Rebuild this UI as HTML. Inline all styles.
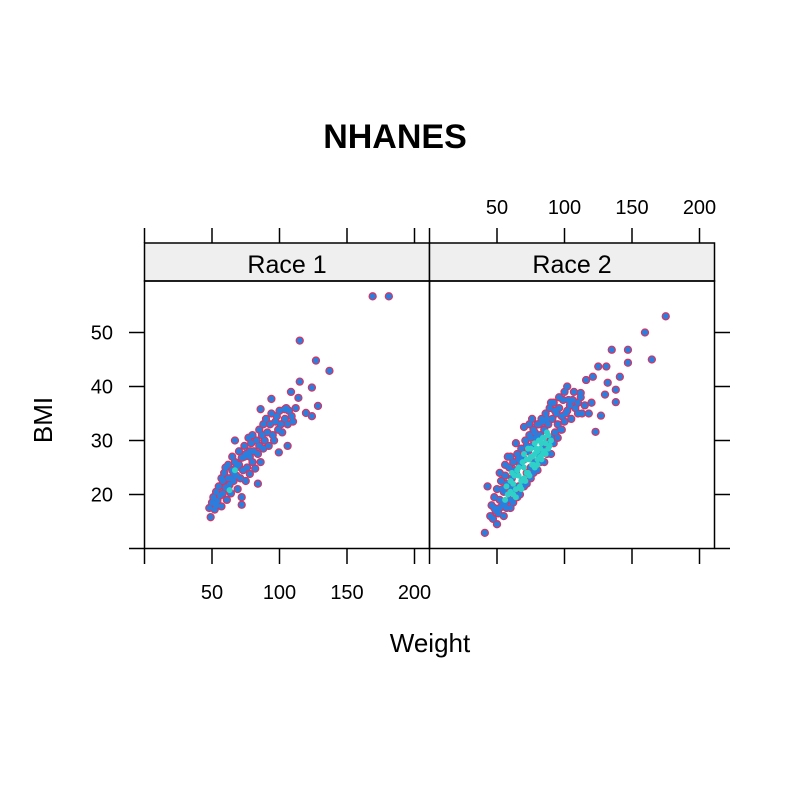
<!DOCTYPE html>
<html><head><meta charset="utf-8"><style>
html,body{margin:0;padding:0;background:#fff}
svg{display:block;font-family:"Liberation Sans",Arial,sans-serif}
</style></head><body>
<svg id="chart" width="792" height="804" viewBox="0 0 792 804">
<rect x="0" y="0" width="792" height="804" fill="#fff"/>
<text x="395" y="148" text-anchor="middle" font-size="34" font-weight="bold">NHANES</text>
<text x="430" y="652" text-anchor="middle" font-size="26">Weight</text>
<text transform="translate(52,420) rotate(-90)" text-anchor="middle" font-size="26">BMI</text>
<g id="axes"></g>
<g id="marks"></g>
</svg>
<script>
const xTicks=[0,50,100,150,200];
const xTickLabels=["","50","100","150","200"];
const yTicks=[10,20,30,40,50];
const yTickLabels=["","20","30","40","50"];
const panelNames=["Race 1","Race 2"];
const race1Points=[[48,17.5],[49,15.8],[50,18.5],[51,19.5],[52,17.2],[53,20.5],[54,18.8],[55,21.5],[56,19.8],[57,17.8],[58,22.5],[58,20.2],[59,24],[60,21.3],[61,19],[62,23],[62,25.5],[63,21.8],[64,20.2],[65,24.5],[65,27],[66,22.5],[67,26],[67,30],[68,23.5],[69,21],[70,25.5],[70,28],[71,23],[72,26.8],[72,19.5],[73,24.5],[74,29],[75,27.5],[75,22.5],[76,25],[77,30.5],[78,27],[78,23.8],[79,29.5],[80,26],[80,31],[81,28],[82,24.8],[83,30],[84,27.5],[85,32],[85,29],[86,26],[87,31],[88,33],[88,28.5],[89,30],[90,34],[91,31.5],[92,29],[93,33],[94,35],[95,31],[96,30],[97,33.5],[98,34.5],[99,32],[100,35.5],[101,33],[102,31.5],[104,34],[105,36],[106,33],[107,35.5],[109,34.5],[110,33.5],[112,36],[86,35.8],[94,37.7],[104,35.8],[108.5,39],[114,37.9],[115,40.9],[119.6,35.1],[124,34.5],[124,39.8],[128.5,36.4],[115,48.5],[127,44.8],[137,42.9],[169,56.7],[181,56.7],[60,25],[57,23],[53,18],[72,18.1],[84,22],[99.5,27.8],[106,29],[64,23],[68,25],[74,27],[78,28],[62,21],[66,24]];
const race1Core=[[67,24.5],[63,20.8]];
const race2Points=[[45,16],[46,18],[47,15.5],[48,19.5],[49,17],[50,21],[51,16.5],[52,19],[53,22.5],[54,18],[55,20.5],[56,23.5],[57,17.5],[58,21.5],[59,25],[60,19],[61,23],[62,26],[63,20.5],[64,24],[65,27.5],[66,21.5],[67,25.5],[68,28.5],[69,22.5],[70,26.5],[71,30],[72,24],[73,28],[74,31],[75,25],[76,29],[77,32],[78,26],[79,30.5],[80,33],[81,27.5],[82,31],[83,34],[84,28.5],[85,32],[86,35],[87,29.5],[88,33],[89,36],[90,30.5],[91,34],[92,37],[93,31.5],[94,35],[95,33],[96,36],[97,32],[98,34.5],[99,37.5],[100,33.5],[102,35.5],[104,36.5],[105,34],[106,37.5],[108,36],[110,35],[112,38],[115,36.5],[118,35],[120,37],[60,17.5],[55,16],[50,14.5],[65,19.5],[70,21.5],[75,23],[80,24.5],[85,26],[90,27.5],[52,24],[58,27],[64,29.5],[70,32.5],[76,34],[43,21.5],[41,12.9],[175,53],[159.6,50],[164.7,45],[135,46.8],[147,46.8],[147,44.4],[125,43.7],[131,43.7],[141,41.8],[121,41.8],[116,41.2],[102,40],[132,40.7],[138,39.4],[112,38.8],[130,38.5],[138,37.1],[90,37],[123,31.6],[127,34.6],[48,17.5],[52,17.5],[56,18.5],[57,22],[61,21],[63,24.5],[66,26.5],[69,27],[72,29],[75,30.5],[78,31.5],[81,33],[84,33.5],[87,34],[62,18.5],[67,20],[72,22],[77,24],[82,26],[87,27.5],[92,29.5],[95,30.5],[98,32],[101,35],[103,37.5],[96,38],[100,39],[107,39],[110,37],[113,35],[93,35.5],[74,33],[60,27],[56,25.5],[54,21]];
const race2Core=[[60,20.5],[62,22],[64,21],[66,23.5],[68,22.5],[70,25],[72,24],[74,26.5],[76,25.5],[78,27.5],[80,26.5],[82,28.5],[84,27.5],[86,29.5],[88,28.5],[90,30],[65,24.5],[70,23],[75,27],[80,28],[85,28],[58,20],[62,20],[67,21.5],[73,24],[78,25],[56,19],[88,31],[83,29.5],[60,22.5],[63,23.5],[66,25],[69,26],[72,26.5],[75,28.5],[78,29.5],[81,30],[84,30.5],[64,19.5],[68,21],[71,22.5],[74,23.5],[77,25.5],[80,25.5],[83,26.5],[86,27.5],[57,21.5],[61,24],[70,27.5],[73,28.5],[76,27],[79,28.5],[82,27],[85,30.5],[87,31.5],[89,29]];

const NS="http://www.w3.org/2000/svg";
const panelLeft=[144.5,429.5];
const panelW=285, panelTop=281, panelBottom=548.5, stripTop=243;
function xScale(p,v){return panelLeft[p]+v*1.35;}
function yScale(v){return 548.5-(v-10)*5.4;}
const axes=document.getElementById('axes');
const marks=document.getElementById('marks');
function mk(tag,attrs,parent){const e=document.createElementNS(NS,tag);for(const k in attrs)e.setAttribute(k,attrs[k]);parent.appendChild(e);return e;}

for(let p=0;p<2;p++){
  const L=panelLeft[p];
  const strip=mk('rect',{x:L,y:stripTop,width:panelW,height:panelTop-stripTop,fill:'#efefef',stroke:'#000','stroke-width':1.5},axes);
  
  
  const st=mk('text',{x:L+panelW/2,y:273,'text-anchor':'middle','font-size':25},axes);
  st.textContent=panelNames[p];
  
  
  const fr=mk('rect',{x:L,y:panelTop,width:panelW,height:panelBottom-panelTop,fill:'none',stroke:'#000','stroke-width':1.5},axes);
  
  
  xTicks.forEach((v,i)=>{
    const x=xScale(p,v);
    mk('line',{x1:x,x2:x,y1:panelBottom,y2:564,stroke:'#000','stroke-width':1.5},axes);
    mk('line',{x1:x,x2:x,y1:stripTop,y2:228,stroke:'#000','stroke-width':1.5},axes);
    if(xTickLabels[i]){
      const t=mk('text',{x:x,y:p===0?599:214,'text-anchor':'middle','font-size':20},axes);
      t.textContent=xTickLabels[i];
      
      
    }
  });
}
yTicks.forEach((v,i)=>{
  const y=yScale(v);
  mk('line',{x1:129,x2:144.5,y1:y,y2:y,stroke:'#000','stroke-width':1.5},axes);
  mk('line',{x1:714.5,x2:730,y1:y,y2:y,stroke:'#000','stroke-width':1.5},axes);
  if(yTickLabels[i]){
    const t=mk('text',{x:113,y:y+7,'text-anchor':'end','font-size':20},axes);
    t.textContent=yTickLabels[i];
    
    
  }
});

function drawPts(p,pts,core){
  pts.forEach(d=>{
    const c=mk('circle',{cx:xScale(p,d[0]),cy:yScale(d[1]),r:3.5,fill:'#2a7fde',stroke:'#e0305a','stroke-width':1.3},marks);
    
    
  });
  pts.forEach(d=>{
    mk('circle',{cx:xScale(p,d[0]),cy:yScale(d[1]),r:3.0,fill:'#2a7fde'},marks);
  });
  core.forEach(d=>{
    const c=mk('circle',{cx:xScale(p,d[0]),cy:yScale(d[1]),r:3.0,fill:'#2fd0c8'},marks);
    
    
  });
}
drawPts(0,race1Points,race1Core);
drawPts(1,race2Points,race2Core);
</script>
</body></html>
